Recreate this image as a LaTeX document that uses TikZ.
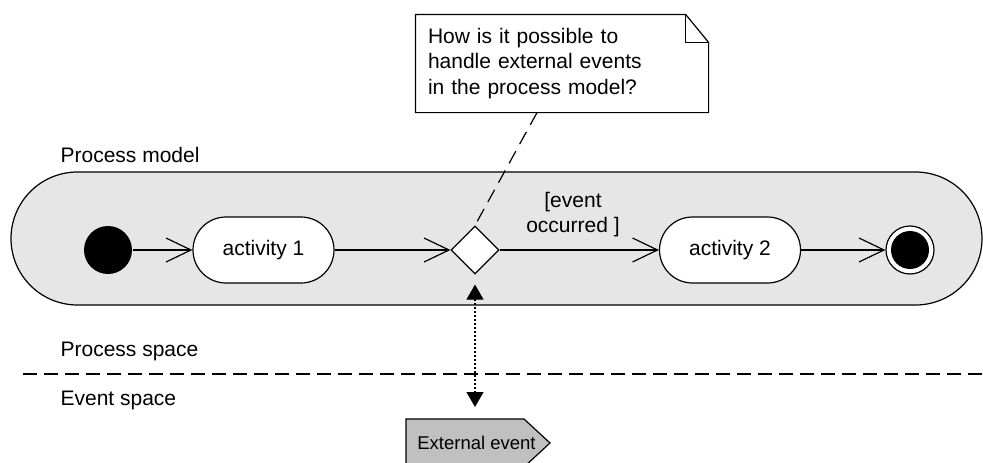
\documentclass[tikz,border=0pt]{standalone}
\usepackage{fontspec}
\setmainfont{Liberation Sans}
\usetikzlibrary{arrows.meta,shapes.geometric}
\definecolor{modelfill}{RGB}{230,230,230}
\definecolor{eventfill}{RGB}{192,192,192}
\begin{document}
\begin{tikzpicture}[x=1pt,y=-1pt,line width=1.2pt,
  every node/.style={font=\fontsize{21}{25.5}\selectfont},
  lbl/.style={anchor=base west,inner sep=0pt},
  activity/.style={draw,fill=white,rounded corners=33pt,
    minimum width=141pt,minimum height=66pt,inner sep=0pt},
  startnode/.style={circle,fill=black,minimum size=48pt,inner sep=0pt},
  endring/.style={circle,draw,fill=white,minimum size=48pt,inner sep=0pt},
  endcore/.style={circle,fill=black,minimum size=38pt,inner sep=0pt},
  decision/.style={diamond,draw,fill=white,aspect=1,minimum width=48pt,
    minimum height=48pt,inner sep=0pt},
  flow/.style={-{Straight Barb[length=25pt,width=24pt]}},
  notelink/.style={dash pattern=on 14pt off 8pt},
  eventlink/.style={{Triangle[length=15pt,width=17pt]}-{Triangle[length=15pt,width=17pt]},
    dash pattern=on 2pt off 2pt},
  separator/.style={dash pattern=on 14pt off 7pt}]

% canvas
\fill[white] (0,0) rectangle (983,463);
\useasboundingbox (0,0) rectangle (983,463);

% process model container
\node[draw,fill=modelfill,rounded corners=66.5pt,minimum width=971pt,
  minimum height=133pt,inner sep=0pt] (model) at (496.5,238.5) {};
\node[lbl] (modeltitle) at (60,162) {Process model};

% activity flow
\node[startnode] (init) at (108,250) {};
\node[activity] (act1) at (263.5,250) {activity 1};
\node[decision] (dec) at (475,250) {};
\node[activity] (act2) at (730,250) {activity 2};
\node[endring] (final) at (910,250) {};
\node[endcore] (finalcore) at (910,250) {};

\draw[flow] (init) -- (act1);
\draw[flow] (act1) -- (dec);
\draw[flow] (dec) -- (act2);
\draw[flow] (act2) -- (final);
\node[align=center,inner sep=0pt] (guard) at (573,214.5) {[event\\occurred ]};

% comment note
\node[minimum width=292pt,minimum height=97pt,text width=268pt,align=left,
  inner sep=0pt] (note) at (562,63.5)
  {How is it possible to\\handle external events\\in the process model?};
\draw (note.north west) -- ([xshift=-23pt]note.north east)
  -- ([yshift=-28pt]note.north east) -- (note.south east)
  -- (note.south west) -- cycle;
\draw ([xshift=-23pt]note.north east) -- ++(0,28)
  -- ([yshift=-28pt]note.north east);
\draw[notelink] ([xshift=-25pt]note.south) -- (dec.north);

% space separator
\coordinate (sepL) at (23,374);
\coordinate (sepR) at (983,374);
\draw[separator] (sepL) -- (sepR);
\node[lbl] (pspace) at (60,356) {Process space};
\node[lbl] (espace) at (60,405) {Event space};

% external event
\draw[fill=eventfill] (406,419) -- (524,419) -- (550,443) -- (524,467)
  -- (406,467) -- cycle;
\coordinate (extTop) at (475,419);
\node[font=\fontsize{18.5}{22}\selectfont,inner sep=0pt] (ext) at (476.5,442.5)
  {External event};
\draw[eventlink,shorten <=10pt,shorten >=12pt] (dec.south) -- (extTop);
\end{tikzpicture}
\end{document}
